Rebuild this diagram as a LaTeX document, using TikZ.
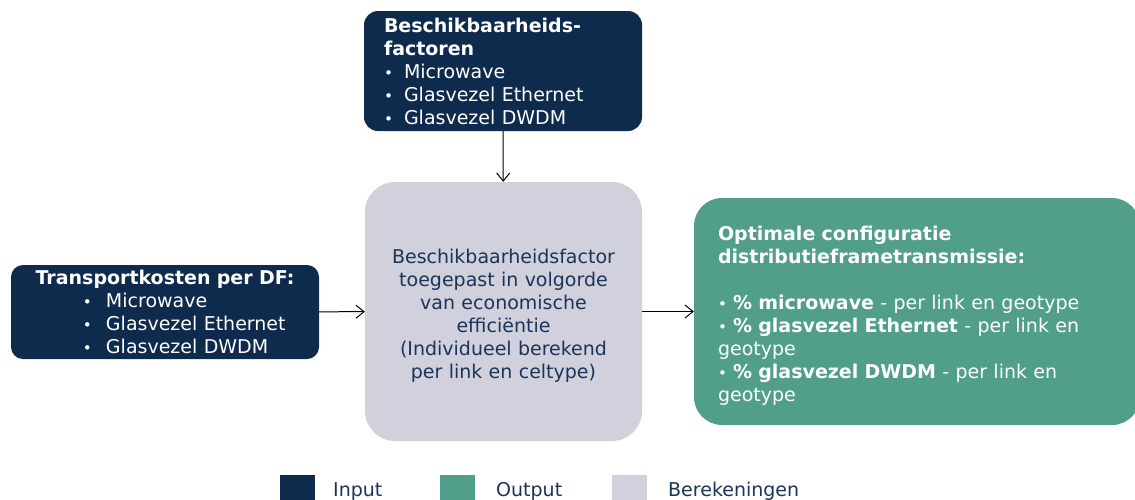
\documentclass[tikz,border=0pt]{standalone}
\usepackage{fontspec}
\setmainfont{DejaVu Sans}
\usepackage{tikz}
\usetikzlibrary{positioning,arrows.meta}
\definecolor{inputblue}{RGB}{14, 42, 77}
\definecolor{outputgreen}{RGB}{81, 158, 138}
\definecolor{calcgrey}{RGB}{208, 209, 220}
\definecolor{textblue}{RGB}{28, 52, 88}
\newcommand{\itemdot}[1][20pt]{\makebox[#1][l]{\scalebox{0.8}{\textbullet}}}

\begin{document}
\begin{tikzpicture}[
    x=1pt, y=-1pt,
    font=\fontsize{19}{23}\selectfont,
    input/.style={rectangle, fill=inputblue, text=white, rounded corners=14pt, align=left},
    calc/.style={rectangle, fill=calcgrey, text=textblue, rounded corners=30pt, align=center, minimum width=277pt, minimum height=259pt, text width=265pt, inner xsep=6pt},
    output/.style={rectangle, fill=outputgreen, text=white, rounded corners=28pt, align=left},
    legbox/.style={rectangle, minimum width=35pt, minimum height=35pt, inner sep=0pt},
    legtext/.style={text=textblue, anchor=base west, inner sep=0pt},
    arrow/.style={->, >={Straight Barb[length=8pt,width=13pt]}, line width=1pt}
]
\useasboundingbox (0,0) rectangle (1135,499);

% Input blocks
\node[input, minimum width=278pt, minimum height=120pt, text width=238pt, inner xsep=20pt] (factors) at (503,71)
    {\textbf{Beschikbaarheids-}\\\textbf{factoren}\\\itemdot Microwave\\\itemdot Glasvezel Ethernet\\\itemdot Glasvezel DWDM};
\node[input, minimum width=308pt, minimum height=94pt, text width=270pt, inner xsep=19pt, rounded corners=12pt] (costs) at (165,312)
    {\makebox[270pt]{\bfseries Transportkosten per DF:}\\\hspace*{53pt}\itemdot[23pt]Microwave\\\hspace*{53pt}\itemdot[23pt]Glasvezel Ethernet\\\hspace*{53pt}\itemdot[23pt]Glasvezel DWDM};

% Calculation block
\node[calc] (calcblock) at (503.5,311.5)
    {\rule{0pt}{22pt}Beschikbaarheidsfactor\\toegepast in volgorde\\van economische\\efficiëntie\\(Individueel berekend\\per link en celtype)};

% Output block
\node[output, minimum width=446pt, minimum height=227pt, text width=398pt, inner xsep=24pt] (result) at (917,311.5)
    {\rule{0pt}{22pt}\textbf{Optimale configuratie}\\\textbf{distributieframetransmissie:}\\[23pt]
     \itemdot[15pt]\textbf{\% microwave} - per link en geotype\\
     \itemdot[15pt]\textbf{\% glasvezel Ethernet} - per link en\\geotype\\
     \itemdot[15pt]\textbf{\% glasvezel DWDM} - per link en\\geotype};

% Arrows
\draw[arrow] (factors) -- (calcblock);
\draw[arrow] (costs) -- (calcblock);
\draw[arrow] (calcblock) -- (result);

% Legend
\node[legbox, fill=inputblue] (leginput) at (297.5,492.5) {};
\node[legbox, fill=outputgreen] (legoutput) at (457.5,492.5) {};
\node[legbox, fill=calcgrey] (legcalc) at (629.5,492.5) {};
\node[legtext] (inputlabel) at (333,496) {Input};
\node[legtext] (outputlabel) at (496,496) {Output};
\node[legtext] (calclabel) at (668,496) {Berekeningen};

\end{tikzpicture}
\end{document}
